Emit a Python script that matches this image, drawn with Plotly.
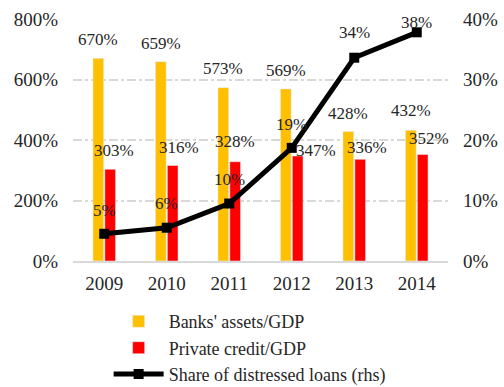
import plotly.graph_objects as go

years = ["2009", "2010", "2011", "2012", "2013", "2014"]
banks_assets = [670, 659, 573, 569, 428, 432]        # % of GDP
private_credit = [303, 316, 328, 347, 336, 352]      # % of GDP
distressed = [0.045, 0.055, 0.095, 0.187, 0.336, 0.378]  # share (rhs)
distressed_labels = ["5%", "6%", "10%", "19%", "34%", "38%"]

# label offsets in pixels (styling)
yellow_dy = [19, 18, 19, 18, 18, 20]
red_dx = [4, 6, 0, 18, 7, 6]
red_dy = [19, 18, 20, 6, 12, 16]
line_dy = [23, 24, 24, 23, 25, 10]

FONT = "Liberation Serif"
YEL = "#FFC000"
RED = "#FF0000"

fig = go.Figure()
fig.add_trace(go.Bar(x=years, y=banks_assets, name="Banks' assets/GDP",
                     marker=dict(color=YEL), yaxis="y"))
fig.add_trace(go.Bar(x=years, y=private_credit, name="Private credit/GDP",
                     marker=dict(color=RED), yaxis="y"))
fig.add_trace(go.Scatter(x=years, y=distressed, name="Share of distressed loans (rhs)",
                         mode="lines+markers", yaxis="y2",
                         line=dict(color="black", width=5),
                         marker=dict(symbol="square", size=10, color="black")))

annotations = []
lab_font = dict(family=FONT, size=17, color="#262626")
for i in range(len(years)):
    annotations.append(dict(x=i, y=banks_assets[i], xref="x", yref="y",
                            text=f"{banks_assets[i]}%", showarrow=False,
                            xshift=-6, yshift=yellow_dy[i], font=lab_font))
    annotations.append(dict(x=i, y=private_credit[i], xref="x", yref="y",
                            text=f"{private_credit[i]}%", showarrow=False,
                            xshift=6 + red_dx[i], yshift=red_dy[i], font=lab_font))
    annotations.append(dict(x=i, y=distressed[i], xref="x", yref="y2",
                            text=distressed_labels[i], showarrow=False,
                            xshift=0, yshift=line_dy[i], font=lab_font))

tick_font = dict(family=FONT, size=19, color="#262626")
fig.update_layout(
    width=504, height=387,
    margin=dict(l=73, r=56, t=19, b=126, autoexpand=False),
    paper_bgcolor="white", plot_bgcolor="white",
    barmode="group", bargap=0.62, bargroupgap=0.1,
    font=dict(family=FONT, size=19, color="#262626"),
    showlegend=True,
    legend=dict(orientation="v", x=0.095, xanchor="left", y=-0.174, yanchor="top",
                font=dict(family=FONT, size=18, color="#262626"),
                traceorder="normal", itemwidth=50, tracegroupgap=0,
                bgcolor="rgba(0,0,0,0)"),
    xaxis=dict(type="category", range=[-0.5, 5.5], showline=True,
               linecolor="#D9D9D9", linewidth=2,
               showgrid=False, ticks="", tickfont=tick_font, ticklabelstandoff=4,
               automargin=False),
    yaxis=dict(range=[0, 800], dtick=200, ticksuffix="%", showgrid=True,
               gridcolor="#D9D9D9", griddash="dashdot", gridwidth=1.5,
               zeroline=False, showline=False, tickfont=tick_font,
               ticklabelstandoff=14, automargin=False),
    yaxis2=dict(range=[0, 0.4], dtick=0.1, tickformat=".0%", overlaying="y",
                side="right", showgrid=False, zeroline=False, showline=False,
                tickfont=tick_font, ticklabelstandoff=14, automargin=False),
    annotations=annotations,
)

fig.write_html("out.html")
